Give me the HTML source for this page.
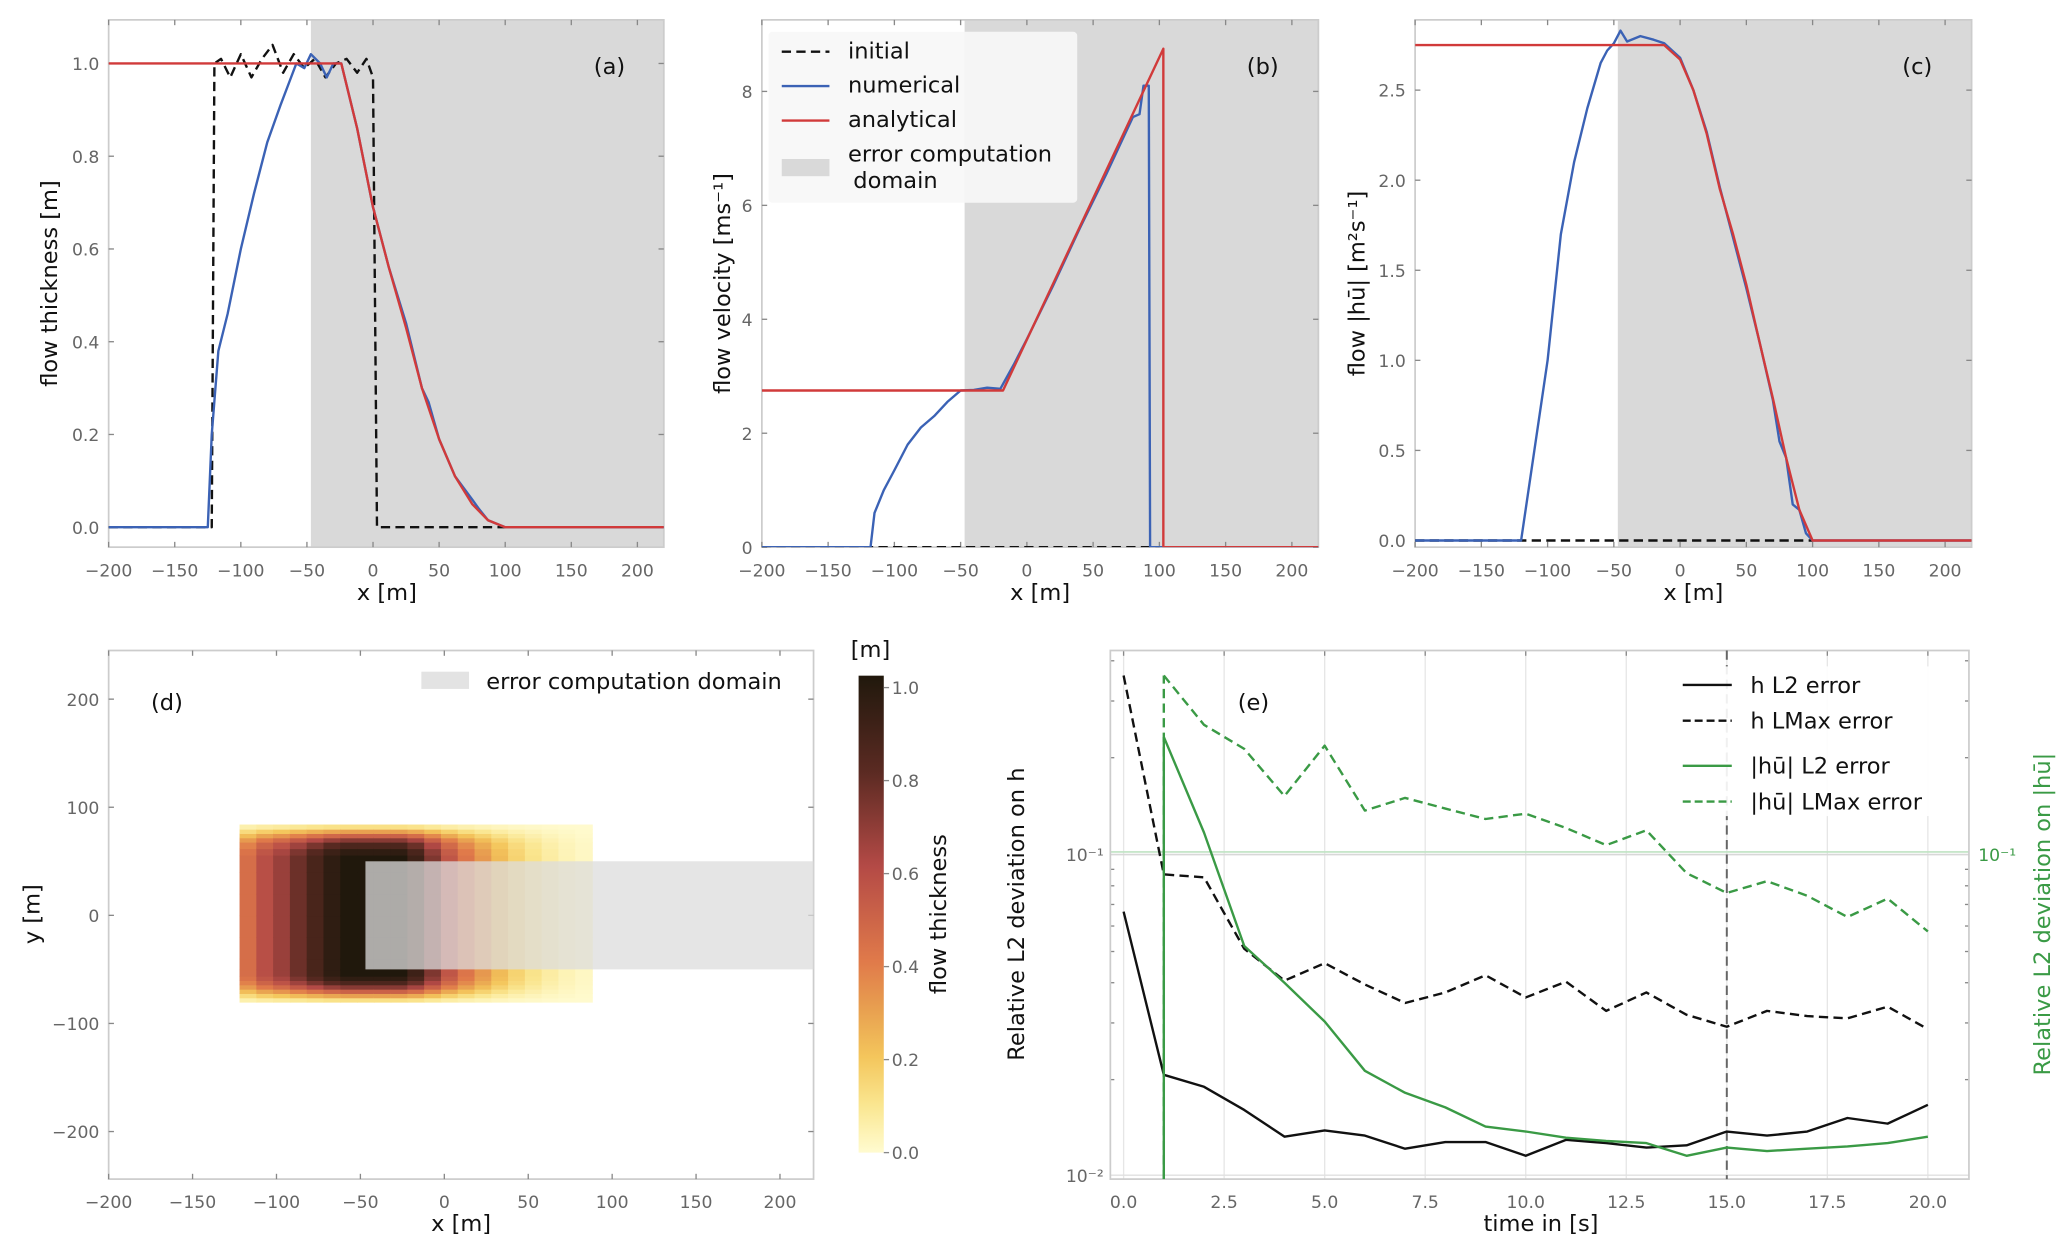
<!DOCTYPE html>
<html><head><meta charset="utf-8">
<style>
html,body{margin:0;padding:0;background:#fff;}
svg{display:block;font-family:"DejaVu Sans","Liberation Sans",sans-serif;}
.tk{fill:#666;font-size:13px;}
.lab{fill:#111;font-size:17px;}
</style></head>
<body>
<svg id="fig" width="2067" height="1248" viewBox="0 0 1560 942" preserveAspectRatio="none" xmlns="http://www.w3.org/2000/svg"></svg>
<script>
// ---------- data ----------
const aAnaX=[-200,-24,-12,0,12,25,37,50,62,75,87,100,220];
const aAnaY=[1,1,0.86,0.69,0.56,0.43,0.30,0.19,0.11,0.05,0.015,0,0];
const aNumX=[-200,-125,-122,-117,-110,-100,-90,-80,-70,-62,-58,-52,-47,-40,-35,-30,-24,-12,0,12,25,37,42,50,62,75,80,87,100,220];
const aNumY=[0,0,0.2,0.38,0.46,0.6,0.72,0.83,0.91,0.97,1.0,0.99,1.02,1.0,0.97,1.0,1.0,0.86,0.69,0.56,0.44,0.30,0.27,0.19,0.11,0.06,0.04,0.015,0,0];
const aIniX=[-200,-122,-120,-115,-108,-100,-92,-84,-76,-68,-60,-52,-44,-36,-28,-20,-12,-5,0,3,100];
const aIniY=[0,0,1.0,1.01,0.97,1.02,0.97,1.01,1.04,0.98,1.02,0.99,1.01,0.97,1.0,1.01,0.98,1.01,0.97,0,0];
const bAnaX=[-200,-18,103,103,220];
const bAnaY=[2.75,2.75,8.75,0,0];
const bNumX=[-200,-118,-115,-108,-100,-90,-80,-70,-60,-50,-40,-30,-20,-10,0,20,40,60,80,85,88,92,93,220];
const bNumY=[0,0,0.6,1.0,1.35,1.8,2.1,2.3,2.55,2.75,2.76,2.8,2.78,3.2,3.65,4.6,5.6,6.55,7.55,7.6,8.1,8.1,0,0];
const bIniX=[-200,100]; const bIniY=[0,0];
const cAnaX=[-200,-12,0,10,20,30,40,50,60,70,80,90,100,220];
const cAnaY=[2.75,2.75,2.67,2.5,2.26,1.95,1.7,1.42,1.1,0.79,0.46,0.17,0,0];
const cNumX=[-200,-120,-118,-110,-100,-90,-80,-70,-60,-55,-50,-45,-40,-30,-20,-12,0,10,20,30,40,50,60,70,75,80,85,90,95,100,220];
const cNumY=[0,0,0.1,0.5,1.0,1.7,2.1,2.4,2.65,2.72,2.76,2.83,2.77,2.8,2.78,2.76,2.68,2.5,2.27,1.96,1.68,1.4,1.1,0.78,0.55,0.46,0.2,0.17,0.04,0,0];
const cIniX=[-200,100]; const cIniY=[0,0];
const dColX=[-122,-112,-102,-92,-82,-72,-62,-52,-42,-32,-22,-12,-2,8,18,28,38,48,58,68,78];
const dColH=[0.45,0.58,0.66,0.76,0.86,0.95,1.0,1.0,1.0,1.0,0.9,0.72,0.55,0.42,0.32,0.23,0.16,0.11,0.07,0.04,0.02];
const eT=[0,1,2,3,4,5,6,7,8,9,10,11,12,13,14,15,16,17,18,19,20];
const eHL2=[0.0665,0.0207,0.019,0.0161,0.0133,0.0139,0.0134,0.0122,0.0128,0.0128,0.0116,0.013,0.0127,0.0123,0.0125,0.0138,0.0134,0.0138,0.0152,0.0146,0.0167];
const eHMax=[0.36,0.0868,0.085,0.051,0.0406,0.046,0.0395,0.0346,0.0373,0.0422,0.036,0.0403,0.0327,0.0373,0.0318,0.0292,0.0327,0.0315,0.031,0.0337,0.0287];
const eQT=[1,2,3,4,5,6,7,8,9,10,11,12,13,14,15,16,17,18,19,20];
const eQL2=[0.232,0.117,0.052,0.040,0.0303,0.0213,0.0182,0.0164,0.0143,0.0138,0.0132,0.0129,0.0127,0.0116,0.0123,0.012,0.0122,0.0124,0.0127,0.0133];
const eQMax=[0.36,0.253,0.213,0.152,0.218,0.137,0.15,0.139,0.129,0.134,0.121,0.107,0.119,0.0876,0.076,0.0827,0.0745,0.064,0.073,0.0577];
const xTicks=[-200,-150,-100,-50,0,50,100,150,200];
const eXTicks=[0,2.5,5,7.5,10,12.5,15,17.5,20];

// ---------- helpers ----------
const NS="http://www.w3.org/2000/svg";
const svg=document.getElementById('fig');
function el(tag,attrs,parent,text){const e=document.createElementNS(NS,tag);for(const k in attrs)e.setAttribute(k,attrs[k]);if(text!==undefined)e.textContent=text;(parent||svg).appendChild(e);return e;}
function lin(d0,d1,r0,r1){return v=>r0+(v-d0)*(r1-r0)/(d1-d0);}
function path(xs,ys,sx,sy){return xs.map((x,i)=>(i?'L':'M')+sx(x).toFixed(2)+','+sy(ys[i]).toFixed(2)).join(' ');}
function fmt(v){return (v<0?'\u2212':'')+Math.abs(v);}

function panel(id,x0,x1,y0,y1,xmin,xmax,ymin,ymax,yTicks,yFmt,greyFrom){
  const g=el('g',{});
  
  
  const sx=lin(xmin,xmax,x0,x1), sy=lin(ymin,ymax,y1,y0);
  const cid='clip-'+id;
  const cp=el('clipPath',{id:cid},g); el('rect',{x:x0,y:y0,width:x1-x0,height:y1-y0},cp);
  if(greyFrom!==null){const r=el('rect',{x:sx(greyFrom),y:y0,width:x1-sx(greyFrom),height:y1-y0,fill:'#d9d9d9'},g);
    }
  el('rect',{x:x0,y:y0,width:x1-x0,height:y1-y0,fill:'none',stroke:'#cccccc','stroke-width':1.3},g);
  xTicks.forEach(t=>{const X=sx(t);el('line',{x1:X,x2:X,y1:y0,y2:y0+4,stroke:'#888'},g);el('line',{x1:X,x2:X,y1:y1,y2:y1-4,stroke:'#888'},g);
    const tx=el('text',{x:X,y:y1+22,'text-anchor':'middle',class:'tk'},g,fmt(t));});
  yTicks.forEach(t=>{const Y=sy(t);el('line',{x1:x1,x2:x1-4,y1:Y,y2:Y,stroke:'#888'},g);el('line',{x1:x0,x2:x0+4,y1:Y,y2:Y,stroke:'#888'},g);
    const tx=el('text',{x:x0-7,y:Y+5,'text-anchor':'end',class:'tk'},g,yFmt(t));});
  const lg=el('g',{'clip-path':'url(#'+cid+')'},g);
  return {g,lg,sx,sy};
}
function line(p,xs,ys,color,dash,name,w){const e=el('path',{d:path(xs,ys,p.sx,p.sy),fill:'none',stroke:color,'stroke-width':w||1.8,'stroke-dasharray':dash||'none','stroke-linejoin':'round'},p.lg);
  return e;}
function text(x,y,s,cls,extra,name){const t=el('text',Object.assign({x:x,y:y,class:cls},extra||{}),svg,s);return t;}

const BLUE='#3b62b5', RED='#d13a3a', GREEN='#3a9a45';

// ---------- panel a ----------
const pa=panel('panel-a',82,501,15,413,-200,220,-0.043,1.094,[0,0.2,0.4,0.6,0.8,1.0],v=>v.toFixed(1),-47);
line(pa,aIniX,aIniY,'#111','7,4','initial-line-a');
line(pa,aNumX,aNumY,BLUE,null,'numerical-line-a');
line(pa,aAnaX,aAnaY,RED,null,'analytical-line-a');
text(460,56,'(a)','lab',{'text-anchor':'middle','font-size':18},'panel-label-a');
text(292,453,'x [m]','lab',{'text-anchor':'middle'},'x-axis-title-a');
text(43,214,'flow thickness [m]','lab',{'text-anchor':'middle',transform:'rotate(-90 43 214)'},'y-axis-title-a');

// ---------- panel b ----------
const pb=panel('panel-b',575,995,15,413,-200,220,0,9.256,[0,2,4,6,8],v=>String(v),-47);
line(pb,bIniX,bIniY,'#111','7,4','initial-line-b');
line(pb,bNumX,bNumY,BLUE,null,'numerical-line-b');
line(pb,bAnaX,bAnaY,RED,null,'analytical-line-b');
text(953,56,'(b)','lab',{'text-anchor':'middle','font-size':18},'panel-label-b');
text(785,453,'x [m]','lab',{'text-anchor':'middle'},'x-axis-title-b');
text(551,214,'flow velocity [ms\u207B\u00B9]','lab',{'text-anchor':'middle',transform:'rotate(-90 551 214)'},'y-axis-title-b');
// legend b
const lgb=el('g',{});
el('rect',{x:580,y:24,width:233,height:129,rx:3,fill:'#f7f7f7','fill-opacity':0.9},lgb);
el('line',{x1:590,x2:626,y1:39,y2:39,stroke:'#111','stroke-width':1.8,'stroke-dasharray':'7,4'},lgb);
el('line',{x1:590,x2:626,y1:65,y2:65,stroke:BLUE,'stroke-width':1.8},lgb);
el('line',{x1:590,x2:626,y1:91,y2:91,stroke:RED,'stroke-width':1.8},lgb);
el('rect',{x:590,y:120,width:36,height:13,fill:'#d9d9d9'},lgb);
[['initial',44],['numerical',70],['analytical',96],['error computation',122],[' domain',142]].forEach(a=>{const t=el('text',{x:a[1]==142?644:640,y:a[1],class:'lab','font-size':16},lgb,a[0]);});

// ---------- panel c ----------
const pc=panel('panel-c',1068,1488,15,413,-200,220,-0.037,2.89,[0,0.5,1.0,1.5,2.0,2.5],v=>v.toFixed(1),-47);
line(pc,cIniX,cIniY,'#111','7,4','initial-line-c');
line(pc,cNumX,cNumY,BLUE,null,'numerical-line-c');
line(pc,cAnaX,cAnaY,RED,null,'analytical-line-c');
text(1447,56,'(c)','lab',{'text-anchor':'middle','font-size':18},'panel-label-c');
text(1278,453,'x [m]','lab',{'text-anchor':'middle'},'x-axis-title-c');
text(1030,214,'flow |h\u016B| [m\u00B2s\u207B\u00B9]','lab',{'text-anchor':'middle',transform:'rotate(-90 1030 214)'},'y-axis-title-c');

// ---------- panel d (heatmap) ----------
const stops=[[0,[255,251,208]],[0.1,[250,230,144]],[0.2,[244,198,92]],[0.3,[232,160,80]],[0.4,[224,122,74]],[0.6,[180,74,70]],[0.8,[90,42,34]],[1,[32,24,12]]];
function cmap(v){v=Math.max(0,Math.min(1,v));for(let i=1;i<stops.length;i++){if(v<=stops[i][0]){const a=stops[i-1],b=stops[i],f=(v-a[0])/(b[0]-a[0]);return 'rgb('+a[1].map((c,k)=>Math.round(c+(b[1][k]-c)*f)).join(',')+')';}}return 'rgb(32,24,12)';}
const pd=panel('panel-d',82,614,491,890,-200,220,-244,245,[-200,-100,0,100,200],v=>fmt(v),null);
const yRows=[-80,-76,-72,-68,-64,-60,-56,-50,-40,-20,0,20,40,56,62,68,72,76,80,84];
const rowF=[0.12,0.3,0.5,0.7,0.85,0.95,1,1,1,1,1,1,1,0.95,0.85,0.7,0.5,0.3,0.12];
for(let i=0;i<dColX.length;i++){for(let j=0;j<yRows.length-1;j++){
  const x=dColX[i],h=dColH[i]*rowF[j];
  const c=el('rect',{x:pd.sx(x),y:pd.sy(yRows[j+1]),width:pd.sx(x+10)-pd.sx(x)+0.6,height:pd.sy(yRows[j])-pd.sy(yRows[j+1])+0.6,fill:cmap(h)},pd.lg);
  
  
}}
const dom=el('rect',{x:pd.sx(-47),y:pd.sy(50),width:pd.sx(220)-pd.sx(-47),height:pd.sy(-50)-pd.sy(50),fill:'#dcdcdc','fill-opacity':0.75},pd.lg);

el('rect',{x:318,y:507,width:36,height:13,fill:'#e3e3e3'},svg);
text(367,520,'error computation domain','lab',{'font-size':16},'legend-entry-d');
text(126,536,'(d)','lab',{'text-anchor':'middle','font-size':18},'panel-label-d');
text(348,929,'x [m]','lab',{'text-anchor':'middle'},'x-axis-title-d');
text(30,690,'y [m]','lab',{'text-anchor':'middle',transform:'rotate(-90 30 690)'},'y-axis-title-d');
// colorbar
const defs=el('defs',{});const gr=el('linearGradient',{id:'cbg',x1:0,y1:1,x2:0,y2:0},defs);
for(let k=0;k<=20;k++){el('stop',{offset:k/20,'stop-color':cmap(k/20)},gr);}
const cb=el('rect',{x:648,y:510,width:19,height:360,fill:'url(#cbg)'});
const cby=lin(0,1,870,519);
[0,0.2,0.4,0.6,0.8,1.0].forEach(v=>{el('line',{x1:667,x2:671,y1:cby(v),y2:cby(v),stroke:'#888'});text(673,cby(v)+5,v.toFixed(1),'tk',{},'colorbar-tick-label');});
text(657,496,'[m]','lab',{'text-anchor':'middle','font-size':18},'colorbar-unit');
text(714,690,'flow thickness','lab',{'text-anchor':'middle','font-size':16,transform:'rotate(-90 714 690)'},'colorbar-title');

// ---------- panel e (log) ----------
const ex0=838,ex1=1486,ey0=491,ey1=890;
const esx=lin(0,20,848,1455);
const ely=lin(-2.008,-0.366,ey1,ey0);
const esy=v=>ely(Math.log10(v));
const pe={sx:esx,sy:esy};
const ge=el('g',{});
const cpe=el('clipPath',{id:'clip-e'},ge);el('rect',{x:ex0,y:ey0,width:ex1-ex0,height:ey1-ey0},cpe);
eXTicks.forEach(t=>{const X=esx(t);el('line',{x1:X,x2:X,y1:ey0,y2:ey1,stroke:'#e6e6e6'},ge);el('line',{x1:X,x2:X,y1:ey0,y2:ey0+4,stroke:'#888'},ge);
  text(X,ey1+22,t.toFixed(1),'tk',{'text-anchor':'middle'},'x-tick-label-e');});
el('line',{x1:ex0,x2:ex1,y1:esy(0.1),y2:esy(0.1),stroke:'#d8d8d8','stroke-width':1.2},ge);
el('line',{x1:ex0,x2:ex1,y1:esy(0.1)-2,y2:esy(0.1)-2,stroke:'#bfe3c3','stroke-width':1.2},ge);
el('line',{x1:ex0,x2:ex1,y1:esy(0.01)-1,y2:esy(0.01)-1,stroke:'#e0e0e0'},ge);
[0.02,0.03,0.04,0.05,0.06,0.07,0.08,0.09,0.2,0.3,0.4].forEach(v=>{el('line',{x1:ex0,x2:ex0+3,y1:esy(v),y2:esy(v),stroke:'#888'},ge);el('line',{x1:ex1,x2:ex1-3,y1:esy(v),y2:esy(v),stroke:'#888'},ge);});
el('rect',{x:ex0,y:ey0,width:ex1-ex0,height:ey1-ey0,fill:'none',stroke:'#cccccc','stroke-width':1.3},ge);
el('line',{x1:esx(15),x2:esx(15),y1:ey0,y2:ey1,stroke:'#666','stroke-width':1.5,'stroke-dasharray':'7,4'},ge);
text(833,650,'10\u207B\u00B9','tk',{'text-anchor':'end'},'y-tick-label-e');
text(833,892,'10\u207B\u00B2','tk',{'text-anchor':'end'},'y-tick-label-e');
text(1493,650,'10\u207B\u00B9','tk',{fill:GREEN,style:'fill:'+GREEN},'y2-tick-label-e');
pe.lg=el('g',{'clip-path':'url(#clip-e)'},ge);
line(pe,eT,eHL2,'#111',null,'h-l2-line');
line(pe,eT,eHMax,'#111','7,4','h-lmax-line');
const qv=el('line',{x1:esx(eQT[0]),x2:esx(eQT[0]),y1:ey1,y2:esy(eQL2[0]),stroke:GREEN,'stroke-width':1.8},pe.lg);

const qv2=el('line',{x1:esx(eQT[0]),x2:esx(eQT[0]),y1:ey1,y2:esy(eQMax[0]),stroke:GREEN,'stroke-width':1.8,'stroke-dasharray':'7,4'},pe.lg);

line(pe,eQT,eQL2,GREEN,null,'hu-l2-line');
line(pe,eQT,eQMax,GREEN,'7,4','hu-lmax-line');
text(946,536,'(e)','lab',{'text-anchor':'middle','font-size':18},'panel-label-e');
text(1163,929,'time in [s]','lab',{'text-anchor':'middle'},'x-axis-title-e');
text(773,690,'Relative L2 deviation on h','lab',{'text-anchor':'middle',transform:'rotate(-90 773 690)'},'y-axis-title-e');
text(1547,690,'Relative L2 deviation on |h\u016B|','lab',{'text-anchor':'middle',transform:'rotate(-90 1547 690)',style:'fill:'+GREEN},'y2-axis-title-e');
// legend e
const lge=el('g',{});
el('rect',{x:1263,y:503,width:212,height:113,fill:'#fff','fill-opacity':0.9},lge);
[[517,'#111',null,'h L2 error'],[544,'#111','6,3','h LMax error'],[578,GREEN,null,'|h\u016B| L2 error'],[605,GREEN,'6,3','|h\u016B| LMax error']].forEach(a=>{
  el('line',{x1:1270,x2:1307,y1:a[0],y2:a[0],stroke:a[1],'stroke-width':1.8,'stroke-dasharray':a[2]||'none'},lge);
  const t=el('text',{x:1321,y:a[0]+6,class:'lab','font-size':16},lge,a[3]);});
</script>
</body></html>
